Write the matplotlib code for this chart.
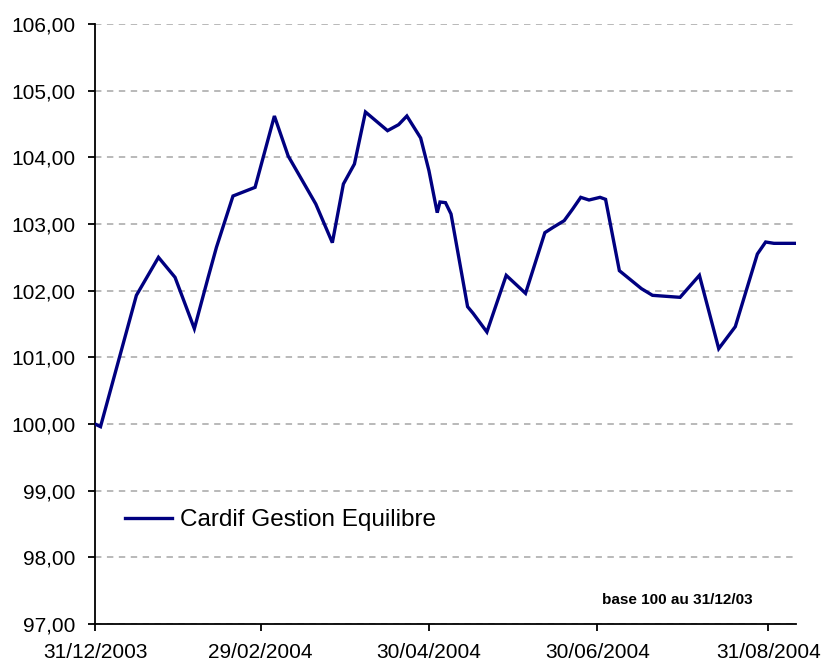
import matplotlib
matplotlib.use("Agg")
import matplotlib.pyplot as plt
import matplotlib.dates as mdates
from matplotlib.ticker import FuncFormatter
import pandas as pd

# ---- data ----
dates = [
    "2003-12-31", "2004-01-02", "2004-01-15", "2004-01-23", "2004-01-24",
    "2004-01-29", "2004-02-05", "2004-02-10", "2004-02-13", "2004-02-19",
    "2004-02-27", "2004-03-05", "2004-03-10", "2004-03-20", "2004-03-26",
    "2004-03-30", "2004-04-03", "2004-04-07", "2004-04-11", "2004-04-15",
    "2004-04-19", "2004-04-22", "2004-04-27", "2004-04-30", "2004-05-03",
    "2004-05-04", "2004-05-06", "2004-05-08", "2004-05-14", "2004-05-16",
    "2004-05-21", "2004-05-28", "2004-06-04", "2004-06-11", "2004-06-14",
    "2004-06-18", "2004-06-21", "2004-06-24", "2004-06-27", "2004-07-01",
    "2004-07-03", "2004-07-08", "2004-07-16", "2004-07-20", "2004-07-30",
    "2004-08-06", "2004-08-13", "2004-08-19", "2004-08-27", "2004-08-30",
    "2004-09-02", "2004-09-10",
]
values = [
    100.00, 99.96, 101.93, 102.50, 102.45,
    102.20, 101.43, 102.20, 102.65, 103.42,
    103.55, 104.62, 104.02, 103.30, 102.72,
    103.60, 103.90, 104.68, 104.54, 104.40,
    104.49, 104.62, 104.29, 103.80, 103.17,
    103.33, 103.32, 103.15, 101.76, 101.66,
    101.38, 102.23, 101.96, 102.87, 102.95,
    103.05, 103.22, 103.40, 103.36, 103.40,
    103.37, 102.30, 102.03, 101.93, 101.90,
    102.23, 101.13, 101.46, 102.55, 102.73,
    102.71, 102.71,
]
series_name = "Cardif Gestion Equilibre"
x_tick_dates = ["2003-12-31", "2004-02-29", "2004-04-30", "2004-06-30", "2004-08-31"]
y_ticks = [97, 98, 99, 100, 101, 102, 103, 104, 105, 106]
x_range = ["2003-12-31", "2004-09-10"]
note_text = "base 100 au 31/12/03"

# ---- figure ----
plt.rcParams['font.family'] = ['Liberation Sans', 'DejaVu Sans']
W, H = 821, 664
fig = plt.figure(figsize=(W / 100, H / 100), dpi=100)
ax = fig.add_axes([95 / W, 40 / H, (796 - 95) / W, (624 - 24) / H])

x = pd.to_datetime(dates)
ax.plot(x, values, color="#000080", lw=2.4, solid_joinstyle="miter",
        label=series_name, zorder=3)

ax.set_xlim(pd.Timestamp(x_range[0]), pd.Timestamp(x_range[1]))
ax.set_ylim(y_ticks[0], y_ticks[-1])

ax.set_yticks(y_ticks)
ax.yaxis.set_major_formatter(FuncFormatter(lambda v, p: f"{v:.2f}".replace(".", ",")))
ax.set_xticks(pd.to_datetime(x_tick_dates))
ax.xaxis.set_major_formatter(mdates.DateFormatter("%d/%m/%Y"))

for s in ["top", "right"]:
    ax.spines[s].set_visible(False)
for s in ["left", "bottom"]:
    ax.spines[s].set_linewidth(1.3)
    ax.spines[s].set_color("#000000")

ax.tick_params(axis="y", direction="out", length=5, width=1.3, labelsize=15,
               pad=9, colors="#000000")
ax.tick_params(axis="x", direction="out", length=5, width=1.3, labelsize=15,
               pad=9, colors="#000000")

ax.yaxis.grid(True, color="#a6a6a6", lw=1.1, dashes=(4.2, 3.6), zorder=1)
ax.xaxis.grid(False)
ax.set_axisbelow(True)

leg = ax.legend(loc="center left", bbox_to_anchor=((125 - 95) / 701, (624 - 520) / 600),
                frameon=False, fontsize=17.5, handlelength=1.95, handletextpad=0.3,
                borderpad=0, borderaxespad=0)

ax.text((753 - 95) / 701, (624 - 600) / 600, note_text, transform=ax.transAxes,
        ha="right", va="center", fontsize=11, fontweight="bold")

fig.savefig("out.png", dpi=100)
